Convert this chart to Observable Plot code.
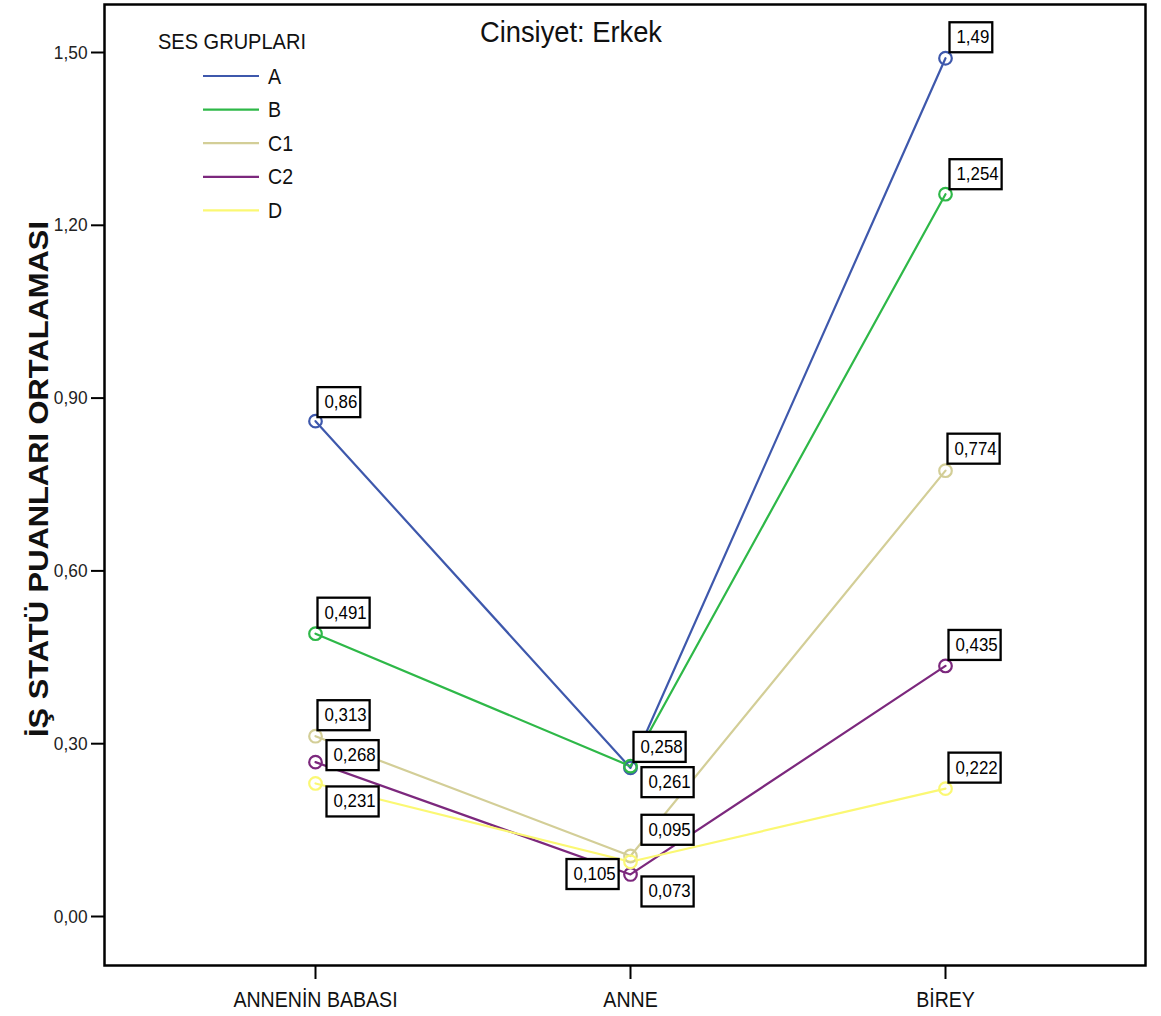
<!DOCTYPE html>
<html><head><meta charset="utf-8">
<script src="https://cdn.jsdelivr.net/npm/d3@7"></script>
<script src="https://cdn.jsdelivr.net/npm/@observablehq/plot@0.6"></script>
<style>
body{margin:0;background:#fff}
svg{font-family:"Liberation Sans",Arial,sans-serif;overflow:visible}
</style>
</head><body><div id="chart"></div>
<script>
// ---- data ----
const categories = ["ANNENİN BABASI", "ANNE", "BİREY"];
const groups = ["A", "B", "C1", "C2", "D"];
const valuesA  = [0.86, 0.258, 1.49];
const valuesB  = [0.491, 0.261, 1.254];
const valuesC1 = [0.313, 0.105, 0.774];
const valuesC2 = [0.268, 0.073, 0.435];
const valuesD  = [0.231, 0.095, 0.222];
const yTicks = [0, 0.3, 0.6, 0.9, 1.2, 1.5];
const title = "Cinsiyet: Erkek";
const legendTitle = "SES GRUPLARI";
const yTitle = "İŞ STATÜ PUANLARI ORTALAMASI";

// ---- styles ----
const colors = ["#3E58AC", "#2EB848", "#D3CE97", "#7C287D", "#FBF873"];
// label box placement (top-left corner of box relative to its point, px), per group per category
const labelPlacement = {
  A:  [[2, -30], [3, -32], [4, -32]],
  B:  [[2, -32], [11, 5], [4, -31]],
  C1: [[2, -32], [-64, 7], [2, -33]],
  C2: [[11, -18], [11, 6], [3, -32]],
  D:  [[11, 7], [11, -43], [3, -32]]
};
const squeeze = 0.91; // horizontal compression of text, as in the reference

const seriesValues = [valuesA, valuesB, valuesC1, valuesC2, valuesD];
const data = [];
groups.forEach((g, gi) => categories.forEach((c, ci) => data.push({group: g, cat: c, value: seriesValues[gi][ci], ci})));
const fmt = v => String(v).replace(".", ",");

const labelMarks = data.map(d => {
  const [ox, oy] = labelPlacement[d.group][d.ci];
  return Plot.text([d], {x: "cat", y: "value", text: d => fmt(d.value), textAnchor: "start", lineAnchor: "bottom",
    dx: ox + 7, dy: oy + 17, fontSize: 18.5, fill: "black"});
});

const plot = Plot.plot({
  width: 1161, height: 1016,
  marginLeft: 104, marginRight: 16, marginTop: 4, marginBottom: 51,
  x: {type: "point", domain: categories, range: [315, 945], padding: 0},
  y: {domain: [0, 1.5], range: [916, 52]},
  color: {domain: groups, range: colors},
  marks: [
    Plot.axisY({ticks: yTicks, tickFormat: v => d3.format(".2f")(v).replace(".", ","), tickSize: 13, tickPadding: 4, fontSize: 19, label: null, strokeWidth: 2, fill: "#222"}),
    Plot.axisX({tickSize: 14, tickPadding: 12, fontSize: 21.5, label: null, strokeWidth: 2, fill: "#111"}),
    Plot.line(data, {x: "cat", y: "value", z: "group", stroke: "group", strokeWidth: 2.2}),
    Plot.dot(data, {x: "cat", y: "value", stroke: "group", r: 6.3, strokeWidth: 2.2, fill: "none"}),
    ...labelMarks,
    Plot.frame({stroke: "black", strokeWidth: 2.5})
  ]
});
document.getElementById("chart").appendChild(plot);
const svg = d3.select(plot);

// horizontal compression of Plot's texts
svg.selectAll("text").each(function() {
  const w = this.getComputedTextLength();
  if (w > 0) { this.setAttribute("textLength", w * squeeze); this.setAttribute("lengthAdjust", "spacingAndGlyphs"); }
});

// boxes behind value labels
svg.selectAll('g[aria-label="text"] text').each(function() {
  const b = this.getBBox();
  const ty = +(this.getAttribute("y") || 0);
  const r = d3.select(this.parentNode).insert("rect", () => this)
    .attr("x", b.x - 7).attr("y", ty - 21)
    .attr("width", b.width + 10).attr("height", 30)
    .attr("fill", "white").attr("stroke", "black").attr("stroke-width", 2.3);
  const tf = this.getAttribute("transform");
  if (tf) r.attr("transform", tf);
});

function addText(parent, x, y, str, size, opts = {}) {
  const t = parent.append("text").attr("x", x).attr("y", y).attr("font-size", size)
    .attr("text-anchor", opts.anchor || "start").attr("fill", "#111").text(str);
  if (opts.weight) t.attr("font-weight", opts.weight);
  if (opts.transform) t.attr("transform", opts.transform);
  const w = t.node().getComputedTextLength();
  t.attr("textLength", opts.length || w * squeeze).attr("lengthAdjust", "spacingAndGlyphs");
  return t;
}

// title
addText(svg, 571, 42, title, 30, {anchor: "middle"});

// y title
addText(svg, 0, 0, yTitle, 27, {anchor: "middle", weight: "bold", transform: "translate(48,479) rotate(-90)", length: 516});

// legend
const lg = svg.append("g");
addText(lg, 158, 49, legendTitle, 22);
groups.forEach((g, i) => {
  const y = 76 + i * 33.6;
  lg.append("line").attr("x1", 203).attr("x2", 259).attr("y1", y).attr("y2", y)
    .attr("stroke", colors[i]).attr("stroke-width", 2.2);
  addText(lg, 268, y + 7.5, g, 21.5);
});
</script>
</body></html>
